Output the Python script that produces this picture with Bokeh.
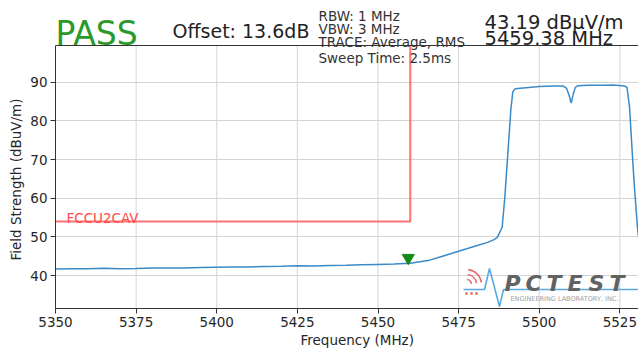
from bokeh.plotting import figure
from bokeh.models import Span, FixedTicker, Range1d, Title
from bokeh.core.properties import value
from bokeh.embed import file_html
from bokeh.resources import INLINE

# ---------------- data ----------------
freq_mhz = [5350, 5355, 5360, 5365, 5370, 5375, 5380, 5385, 5390, 5395,
            5400, 5405, 5410, 5415, 5420, 5425, 5430, 5435, 5440, 5445,
            5450, 5455, 5460, 5463, 5466, 5470, 5475, 5480, 5484, 5486,
            5487, 5488.5, 5489.3, 5490.3, 5491.2, 5491.8, 5492.5, 5495, 5500, 5505,
            5507.5, 5508.5, 5509.3, 5509.9, 5510.5, 5511.2, 5512, 5515, 5520, 5523,
            5526.5, 5527.2, 5528, 5528.8, 5529.5, 5530.5, 5531.5]
level_dbuv = [41.7, 41.8, 41.75, 41.9, 41.8, 41.85, 41.95, 42.0, 41.95, 42.1,
              42.15, 42.2, 42.25, 42.35, 42.4, 42.55, 42.5, 42.65, 42.7, 42.8,
              42.9, 43.0, 43.2, 43.6, 44.0, 45.0, 46.3, 47.6, 48.6, 49.3,
              49.9, 52.5, 60.0, 72.0, 83.0, 87.5, 88.3, 88.5, 88.9, 89.0,
              89.0, 88.4, 86.5, 84.6, 86.8, 88.7, 89.1, 89.2, 89.2, 89.3,
              89.0, 88.7, 83.5, 72.3, 63.0, 52.0, 45.0]

limit_freq = [5350, 5460]
limit_level = [54, 54]
limit_name = "FCCU2CAV"

marker_freq = [5459.38]
marker_level = [43.19]

x_ticks = [5350, 5375, 5400, 5425, 5450, 5475, 5500, 5525]
y_ticks = [40, 50, 60, 70, 80, 90]

verdict = "PASS"
offset_text = "Offset: 13.6dB"
settings_lines = ["RBW: 1 MHz", "VBW: 3 MHz", "TRACE: Average, RMS", "Sweep Time: 2.5ms"]
readout_lines = ["43.19 dBµV/m", "5459.38 MHz"]
x_title = "Frequency (MHz)"
y_title = "Field Strength (dBuV/m)"
logo_word = "PCTEST"
logo_sub = "ENGINEERING LABORATORY, INC."

# ---------------- layout (canvas pixels) ----------------
W, H = 638, 351
B_LEFT, B_BOTTOM = 55, 43
FRAME_L, FRAME_R = B_LEFT, W
FRAME_T, FRAME_B = 0, H - B_BOTTOM      # 0, 308
BOX_T = 45                              # plot-box top line

X_START = 5350
X_END = X_START + (FRAME_R - FRAME_L) / 3.225
Y_START, Y_TOP = 31.5, 99.5
PPU = (FRAME_B - BOX_T) / (Y_TOP - Y_START)
Y_END = Y_TOP + (BOX_T - FRAME_T) / PPU

FONT = "DejaVu Sans"
TXT = "#222222"


def dx(px):
    return X_START + (px - FRAME_L) * (X_END - X_START) / (FRAME_R - FRAME_L)


def dy(py):
    return Y_START + (FRAME_B - py) / PPU


p = figure(width=W, height=H,
           x_range=Range1d(X_START, X_END), y_range=Range1d(Y_START, Y_END),
           output_backend="svg", toolbar_location=None,
           min_border_left=B_LEFT, min_border_right=0,
           min_border_top=0, min_border_bottom=B_BOTTOM)
p.background_fill_color = "white"
p.border_fill_color = "white"
p.outline_line_color = None

for ax in (p.xaxis[0], p.yaxis[0]):
    ax.axis_line_color = "#333333"
    ax.axis_line_width = 1
    ax.major_tick_line_color = "#333333"
    ax.major_tick_out = 5
    ax.major_tick_in = 0
    ax.minor_tick_out = 0
    ax.minor_tick_in = 0
    ax.major_label_text_font = FONT
    ax.major_label_text_font_size = "13.5px"
    ax.major_label_text_color = "#262626"
    ax.major_label_standoff = 3

p.xaxis.ticker = FixedTicker(ticks=x_ticks)
p.yaxis.ticker = FixedTicker(ticks=y_ticks)
p.yaxis.bounds = (Y_START, Y_TOP)

p.add_layout(Title(text=x_title, align="left", offset=300 - FRAME_L,
                   text_font=FONT, text_font_size="13.5px", text_font_style="normal",
                   text_color="#262626", standoff=0), "below")
p.add_layout(Title(text=y_title, align="left", offset=FRAME_B - 260,
                   text_font=FONT, text_font_size="13.5px", text_font_style="normal",
                   text_color="#262626", standoff=8), "left")

# grid
p.xgrid.visible = False
p.segment(x0=x_ticks, y0=[Y_START] * len(x_ticks), x1=x_ticks, y1=[Y_TOP] * len(x_ticks),
          line_color="#d4d4d4", line_width=1)
p.ygrid.ticker = FixedTicker(ticks=y_ticks)
p.ygrid.grid_line_color = "#d4d4d4"
p.ygrid.grid_line_width = 1

# top border of the plot box
p.add_layout(Span(location=Y_TOP, dimension="width", line_color="#333333", line_width=1))

# limit line (vertical edge runs up to the box top)
p.line(limit_freq + [limit_freq[-1]], limit_level + [Y_TOP],
       line_color="#ff5a5a", line_width=2, line_alpha=0.85)
p.text(x=[limit_freq[0] + 3.4], y=[limit_level[0] + 1.0], text=[limit_name],
       text_font=value(FONT), text_font_size="13.5px", text_color="#ff4a4a",
       text_baseline="alphabetic")

# trace
p.line(freq_mhz, level_dbuv, line_color="#3a8ac8", line_width=1.5)

# marker, drawn just above the trace point
MARKER_LIFT = 1.4
p.scatter(marker_freq, [v + MARKER_LIFT for v in marker_level],
          marker="inverted_triangle", size=12, fill_color="#138a13",
          line_color="#138a13")

# ---------------- header texts ----------------
p.text(x=[dx(55)], y=[dy(33)], text=[verdict], text_font=value(FONT),
       text_font_size="33px", text_color="#2a9a2a", text_baseline="alphabetic")
p.text(x=[dx(172)], y=[dy(30)], text=[offset_text], text_font=value(FONT),
       text_font_size="19px", text_color=TXT, text_baseline="alphabetic")
p.text(x=[dx(318)] * 4, y=[dy(b) for b in (15, 28, 41, 57)], text=settings_lines,
       text_font=value(FONT), text_font_size="13.5px", text_color="#333333",
       text_baseline="alphabetic")
p.text(x=[dx(484)] * 2, y=[dy(b) for b in (22, 38)], text=readout_lines,
       text_font=value(FONT), text_font_size="19.5px", text_color=TXT,
       text_baseline="alphabetic")

# ---------------- logo watermark ----------------
logo_blue = "#5aa8de"
logo_red = "#e86a6a"
lx = [463, 484, 489, 499, 503, 640]
ly = [289, 289, 268, 306, 289, 289]
p.line([dx(v) for v in lx], [dy(v) for v in ly], line_color=logo_blue, line_width=1.6)
for r in (5, 10, 15):
    p.arc(x=[dx(466)], y=[dy(284)], radius=r, radius_units="screen",
          start_angle=0.15, end_angle=1.45, line_color=logo_red, line_width=1.6)
p.scatter([dx(v) for v in (466, 471, 476)], [dy(293)] * 3, marker="square",
          size=2.5, fill_color=logo_red, line_color=None)
letter_x = [504, 525, 546, 567, 588, 609]
p.text(x=[dx(v) for v in letter_x], y=[dy(283)] * len(letter_x), text=list(logo_word),
       text_font=value(FONT), text_font_size="22px", text_font_style="bold italic",
       text_color="#626262", text_baseline="alphabetic")
p.text(x=[dx(510)], y=[dy(298)], text=[logo_sub], text_font=value(FONT),
       text_font_size="6.5px", text_color="#a0a0a0", text_baseline="middle")

open("out.html", "w").write(file_html(p, INLINE))
